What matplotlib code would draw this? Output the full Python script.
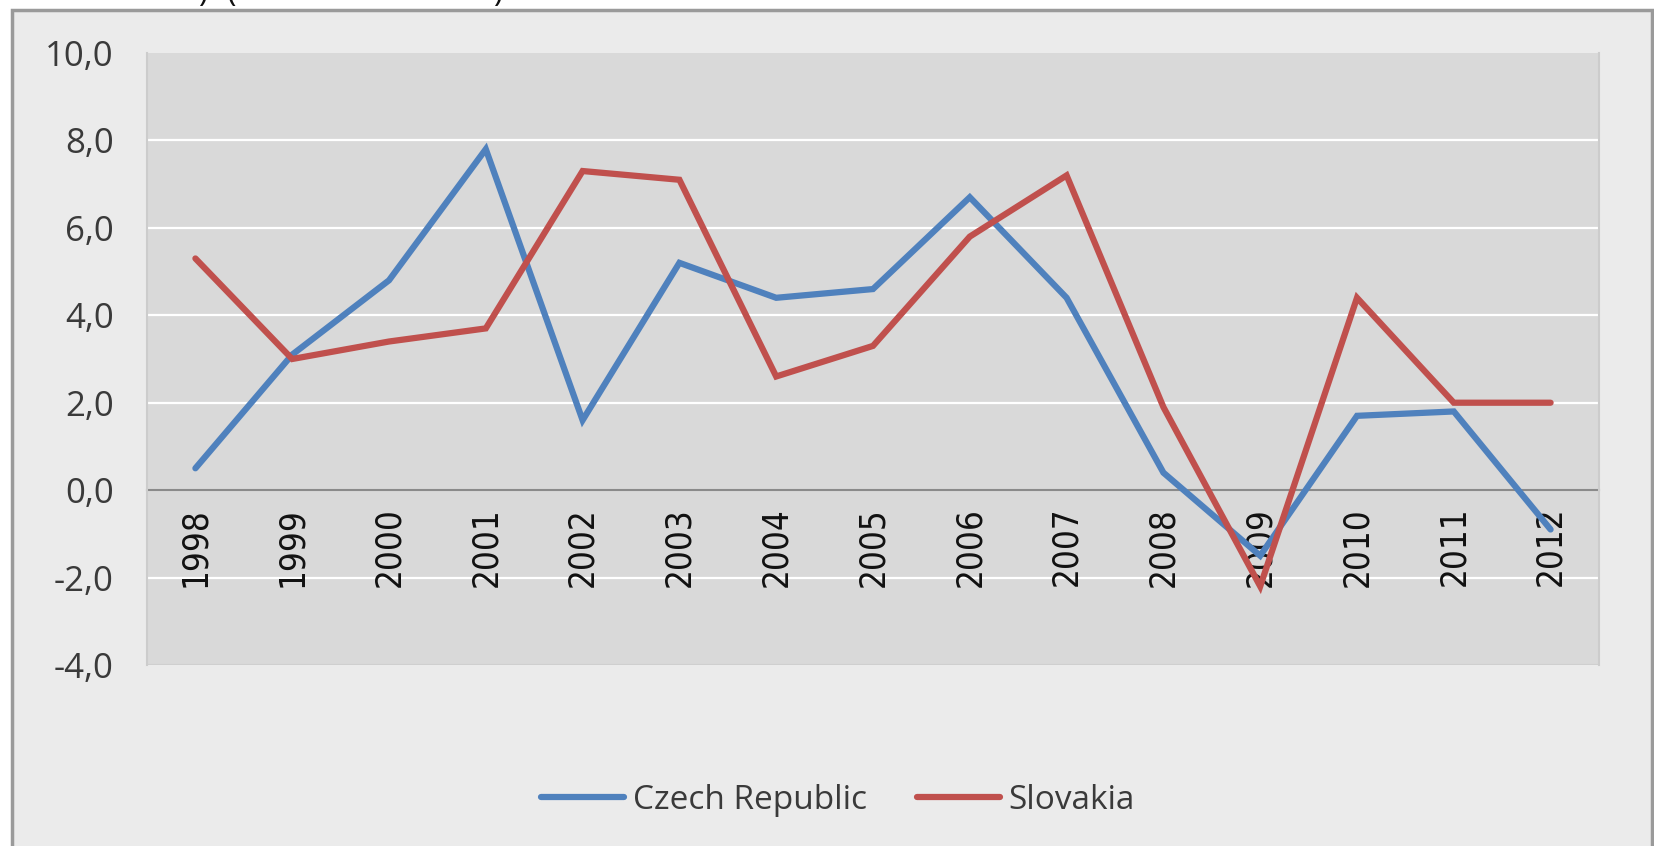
import numpy as np
import matplotlib
matplotlib.use('Agg')
import matplotlib.pyplot as plt
from matplotlib.patches import Rectangle
from matplotlib.ticker import FuncFormatter
from matplotlib import font_manager

years = ['1998', '1999', '2000', '2001', '2002', '2003', '2004', '2005',
         '2006', '2007', '2008', '2009', '2010', '2011', '2012']
czech = [0.5, 3.1, 4.8, 7.8, 1.6, 5.2, 4.4, 4.6, 6.7, 4.4, 0.4, -1.5, 1.7, 1.8, -0.9]
slovakia = [5.3, 3.0, 3.4, 3.7, 7.3, 7.1, 2.6, 3.3, 5.8, 7.2, 1.9, -2.2, 4.4, 2.0, 2.0]
yticks = [-4, -2, 0, 2, 4, 6, 8, 10]

txt_font = ['Open Sans', 'DejaVu Sans']
names = {f.name for f in font_manager.fontManager.ttflist}
if 'Liberation Sans Narrow' in names:
    cond_font, cond_stretch = 'Liberation Sans Narrow', 'normal'
else:
    cond_font, cond_stretch = 'DejaVu Sans', 'condensed'
txt_col = '#3a3a3a'

W, H = 1654, 846
fig = plt.figure(figsize=(W / 100, H / 100), dpi=100)
fig.patch.set_facecolor('white')

# outer chart frame
fig.patches.append(Rectangle((12 / W, -0.05), (1652 - 12) / W, 1.05 - 10 / H,
                             transform=fig.transFigure, facecolor='#ebebeb',
                             edgecolor='#9a9a9a', lw=2.5, zorder=-5))

# bits of a caption cut off at the top
for xp, ch in [(203, ')'), (232, '('), (498, ')')]:
    fig.text(xp / W, 1 - 1 / H, ch, ha='center', va='baseline', fontsize=23,
             family=txt_font, color='#111111')

ax = fig.add_axes([147 / W, 1 - 665 / H, (1599 - 147) / W, (665 - 53) / H])
ax.set_zorder(2)
ax.set_facecolor('#d9d9d9')

x = np.arange(len(years))
ax.plot(x, czech, color='#4f81bd', lw=4.5, label='Czech Republic', zorder=3,
        solid_joinstyle='miter', solid_capstyle='round')
ax.plot(x, slovakia, color='#c0504d', lw=4.5, label='Slovakia', zorder=3,
        solid_joinstyle='miter', solid_capstyle='round')

ax.set_xlim(-0.5, len(years) - 0.5)
ax.set_ylim(-4, 10)
ax.set_yticks(yticks)
ax.yaxis.set_major_formatter(FuncFormatter(lambda v, p: f'{v:.1f}'.replace('.', ',')))
for v in yticks:
    if v not in (0, -4, 10):
        ax.axhline(v, color='white', lw=1.6, zorder=1)
ax.axhline(-4, color='#cfcfcf', lw=1.5, zorder=1)

ax.set_xticks(x)
ax.set_xticklabels(years)
ax.spines['bottom'].set_position(('data', 0))
ax.spines['bottom'].set_color('#8a8a8a')
ax.spines['bottom'].set_linewidth(1.5)
ax.spines['bottom'].set_zorder(2)
for s in ['left', 'right', 'top']:
    ax.spines[s].set_color('#cccccc')
    ax.spines[s].set_linewidth(1.5)
ax.spines['top'].set_visible(False)

ax.tick_params(axis='x', length=0, pad=12, labelsize=25, labelcolor='#111111',
               labelrotation=90)
ax.tick_params(axis='y', length=0, pad=24, labelsize=25, labelcolor=txt_col)
for lab in ax.get_xticklabels():
    lab.set_family(cond_font)
    lab.set_stretch(cond_stretch)
    lab.set_va('top')
for lab in ax.get_yticklabels():
    lab.set_family(txt_font)

leg = fig.legend(loc='center', bbox_to_anchor=(838 / W, 1 - 800 / H), ncol=2,
                 frameon=False, handlelength=2.5, handletextpad=0.25,
                 columnspacing=1.5, prop={'family': txt_font, 'size': 24})
for t in leg.get_texts():
    t.set_color(txt_col)

fig.savefig('out.png', dpi=100, facecolor=fig.get_facecolor())
